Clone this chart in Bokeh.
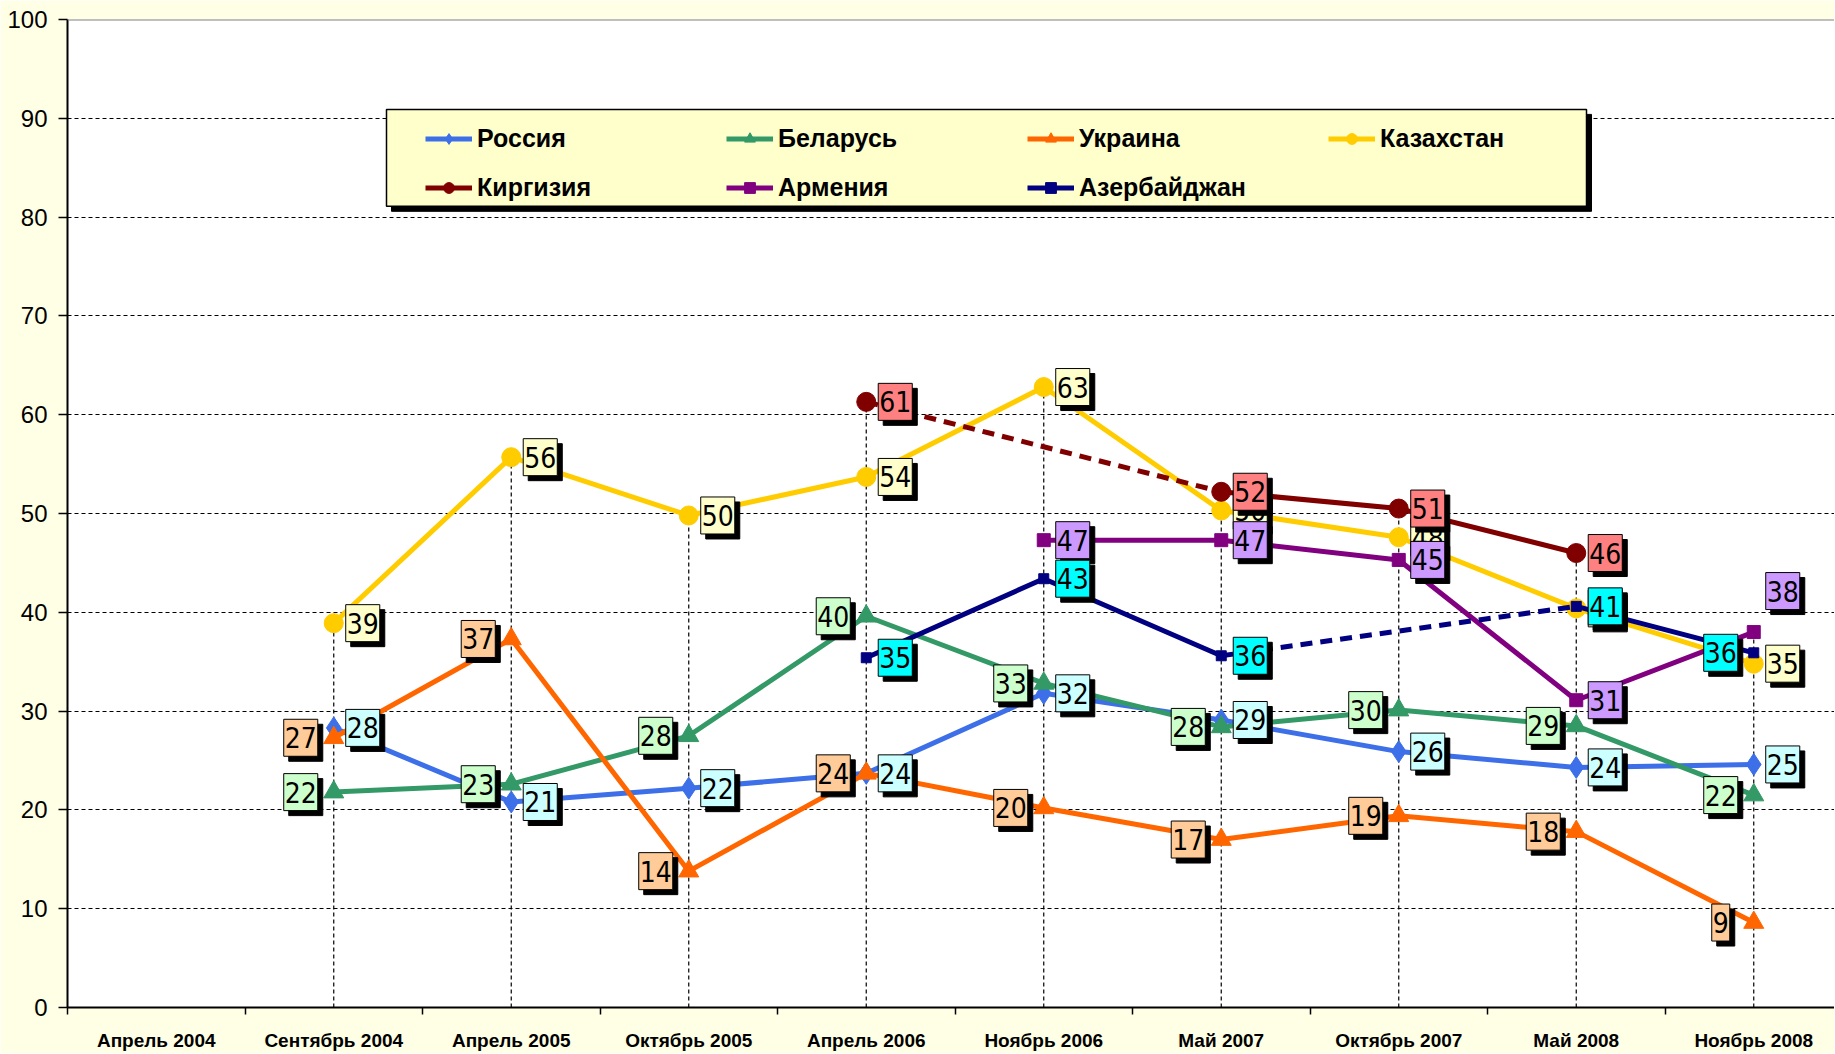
import numpy as np
from bokeh.plotting import figure
from bokeh.models import ColumnDataSource, Range1d, FixedTicker, Span, Legend, LegendItem
from bokeh.core.properties import value
from bokeh.embed import file_html
from bokeh.resources import INLINE

# ---------------- data ----------------
categories = ["Апрель 2004", "Сентябрь 2004", "Апрель 2005", "Октябрь 2005", "Апрель 2006",
              "Ноябрь 2006", "Май 2007", "Октябрь 2007", "Май 2008", "Ноябрь 2008"]
russia     = [None, 28.3, 20.8, 22.2, 23.7, 31.8, 29.1, 25.9, 24.3, 24.6]
belarus    = [None, 21.8, 22.6, 27.5, 39.6, 32.8, 28.4, 30.1, 28.5, 21.5]
ukraine    = [None, 27.3, 37.3, 13.8, 23.7, 20.2, 17.0, 19.4, 17.8, 8.6]
kazakhstan = [None, 38.9, 55.7, 49.8, 53.7, 62.8, 50.3, 47.6, 40.4, 34.8]
kyrgyzstan = [None, None, None, None, 61.3, None, 52.2, 50.5, 46.0, None]
armenia    = [None, None, None, None, None, 47.3, 47.3, 45.3, 31.1, 38.0]
azerbaijan = [None, None, None, None, 35.4, 43.4, 35.6, None, 40.6, 35.9]
series_names = ["Россия", "Беларусь", "Украина", "Казахстан", "Киргизия", "Армения", "Азербайджан"]
y_ticks = list(range(0, 101, 10))

series_values = [russia, belarus, ukraine, kazakhstan, kyrgyzstan, armenia, azerbaijan]

# ---------------- styles ----------------
styles = [
    dict(color="#3D6FE8", marker="diamond",  size=22, box="#CCFFFF", side="r"),
    dict(color="#339966", marker="triangle", size=20, box="#CCFFCC", side="l"),
    dict(color="#FF6600", marker="triangle", size=20, box="#FFCC99", side="l"),
    dict(color="#FFCC00", marker="circle",   size=19, box="#FFFFCC", side="r"),
    dict(color="#800000", marker="circle",   size=19, box="#FF8080", side="r"),
    dict(color="#800080", marker="square",   size=13, box="#CC99FF", side="r"),
    dict(color="#000080", marker="square",   size=10, box="#00FFFF", side="r"),
]
# per-label placement overrides: (series index, category index) -> (side, dy px)
label_overrides = {(6, 9): ("l", 0), (5, 9): ("r", -41)}

PAGE_W, PAGE_H = 1834, 1053
BL, BT = 67, 19
FRAME_BOTTOM = 1008
BB = PAGE_H - FRAME_BOTTOM
CAT_PX = 177.5
X0 = -0.5
X1 = X0 + (PAGE_W - BL) / CAT_PX
FONT = "'Liberation Sans Narrow', 'DejaVu Sans Condensed', 'Liberation Sans', sans-serif"

p = figure(width=PAGE_W, height=PAGE_H, output_backend="svg", toolbar_location=None,
           x_range=Range1d(X0, X1), y_range=Range1d(0, 100),
           min_border_left=BL, min_border_right=0, min_border_top=BT, min_border_bottom=BB)
p.background_fill_color = "white"
p.border_fill_color = "#FFFFE5"
p.outline_line_color = None

# axes
p.xaxis.ticker = FixedTicker(ticks=list(range(len(categories))),
                             minor_ticks=[k - 0.5 for k in range(len(categories) + 1)])
p.xaxis.major_label_overrides = {i: c for i, c in enumerate(categories)}
p.xaxis.major_tick_out = 0
p.xaxis.major_tick_in = 0
p.xaxis.minor_tick_out = 7
p.xaxis.minor_tick_in = 0
p.xaxis.minor_tick_line_color = "black"
p.xaxis.minor_tick_line_width = 1.5
p.xaxis.major_label_standoff = 15
p.xaxis.major_label_text_font = "Liberation Sans"
p.xaxis.major_label_text_font_style = "bold"
p.xaxis.major_label_text_font_size = "19px"
p.xaxis.major_label_text_color = "black"
p.xaxis.axis_line_color = "black"
p.xaxis.axis_line_width = 2

p.yaxis.ticker = FixedTicker(ticks=y_ticks)
p.yaxis.major_tick_out = 9
p.yaxis.major_tick_in = 0
p.yaxis.minor_tick_line_color = None
p.yaxis.major_tick_line_width = 1.5
p.yaxis.major_label_standoff = 11
p.yaxis.major_label_text_font = "Liberation Sans"
p.yaxis.major_label_text_font_size = "24px"
p.yaxis.major_label_text_color = "black"
p.yaxis.axis_line_color = "black"
p.yaxis.axis_line_width = 2

p.xgrid.visible = False
p.ygrid.ticker = FixedTicker(ticks=y_ticks[1:-1])
p.ygrid.grid_line_color = "black"
p.ygrid.grid_line_dash = "4 3"
p.ygrid.grid_line_width = 1.2

p.add_layout(Span(location=100, dimension="width", line_color="#808080", line_width=2))

xs = np.arange(len(categories), dtype=float)
arr = [np.array([np.nan if v is None else v for v in s], dtype=float) for s in series_values]

# drop lines from the maximum of each category down to the axis
stack = np.vstack(arr)
has = ~np.all(np.isnan(stack), axis=0)
tops = np.nanmax(np.where(np.isnan(stack), -np.inf, stack), axis=0)
p.segment(x0=xs[has], y0=np.zeros(has.sum()), x1=xs[has], y1=tops[has],
          line_color="black", line_dash="4 3", line_width=1.2)

# legend box (drawn manually) — pixel helpers
FW = PAGE_W - BL
FH = FRAME_BOTTOM - BT
def px2x(px):  # page px -> data x
    return X0 + (px - BL) / FW * (X1 - X0)
def px2y(py):
    return 100 - (py - BT) / FH * 100

lb_l, lb_r, lb_t, lb_b = 386, 1586, 109, 206
p.quad(left=[px2x(lb_l + 5)], right=[px2x(lb_r + 5)], top=[px2y(lb_t + 5)], bottom=[px2y(lb_b + 5)],
       fill_color="black", line_color="black")
p.quad(left=[px2x(lb_l)], right=[px2x(lb_r)], top=[px2y(lb_t)], bottom=[px2y(lb_b)],
       fill_color="#FFFFCC", line_color="black", line_width=1.5)

# series lines + markers
items = []
for name, a, st in zip(series_names, arr, styles):
    src = ColumnDataSource(dict(x=xs, y=a))
    lr = p.line("x", "y", source=src, line_color=st["color"], line_width=5)
    idx = np.where(~np.isnan(a))[0]
    gx0, gy0, gx1, gy1 = [], [], [], []
    for i0, i1 in zip(idx[:-1], idx[1:]):
        if i1 - i0 > 1:
            gx0.append(xs[i0]); gy0.append(a[i0]); gx1.append(xs[i1]); gy1.append(a[i1])
    if gx0:
        p.segment(x0=gx0, y0=gy0, x1=gx1, y1=gy1, line_color=st["color"], line_width=5,
                  line_dash="12 8")
    ok = ~np.isnan(a)
    msrc = ColumnDataSource(dict(x=xs[ok], y=a[ok]))
    sr = p.scatter("x", "y", source=msrc, marker=st["marker"], size=st["size"],
                   fill_color=st["color"], line_color=st["color"])
    items.append(LegendItem(label=name, renderers=[lr, sr]))

# data labels
for si, (a, st) in enumerate(zip(arr, styles)):
    ok = np.where(~np.isnan(a))[0]
    lx, ly, lt, xo, yo = [], [], [], [], []
    for i in ok:
        side, dy = label_overrides.get((si, i), (st["side"], 0))
        lx.append(xs[i]); ly.append(a[i])
        lt.append(str(int(np.floor(a[i] + 0.5))))
        xo.append(29 if side == "r" else -33)
        yo.append(dy)
    src = ColumnDataSource(dict(x=lx, y=ly, t=lt, xo=xo, yo=yo,
                                xs=[v + 5 for v in xo], ys=[v + 5 for v in yo]))
    p.text("x", "y", text="t", source=src, x_offset="xs", y_offset="ys",
           text_font=value(FONT), text_font_size="28px", text_align="center",
           text_baseline="middle", text_color="black",
           background_fill_color="black", border_line_color="black", padding=(1, 8))
    p.text("x", "y", text="t", source=src, x_offset="xo", y_offset="yo",
           text_font=value(FONT), text_font_size="28px", text_align="center",
           text_baseline="middle", text_color="black",
           background_fill_color=st["box"], border_line_color="black", border_line_width=1,
           padding=(1, 8))

legend = Legend(items=items, location=(353, 800), orientation="horizontal", ncols=4,
                glyph_width=47, glyph_height=27, label_standoff=5, label_width=229,
                spacing=20, padding=5, margin=0,
                background_fill_alpha=0, border_line_alpha=0,
                label_text_font="Liberation Sans", label_text_font_style="bold",
                label_text_font_size="25px", label_text_color="black")
p.add_layout(legend)

open("out.html", "w").write(file_html(p, INLINE))
